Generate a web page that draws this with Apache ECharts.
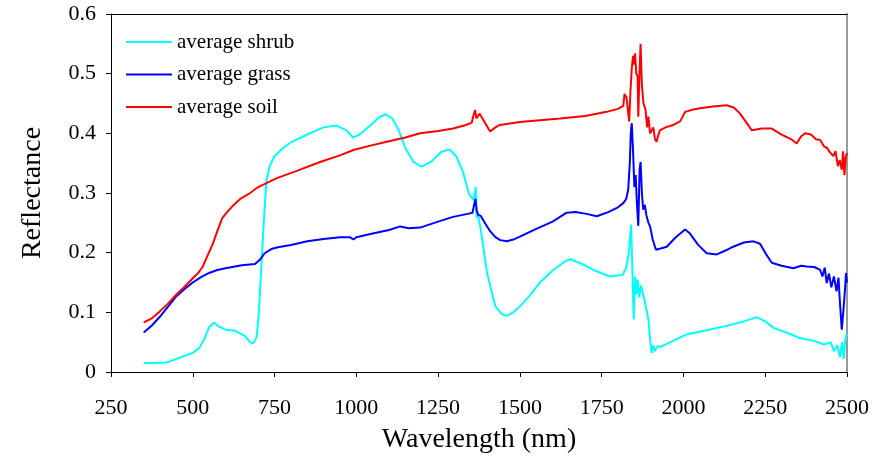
<!DOCTYPE html>
<html>
<head>
<meta charset="utf-8">
<script src="https://cdn.jsdelivr.net/npm/echarts@6/dist/echarts.min.js"></script>
<style>html,body{margin:0;padding:0;background:#fff}#c{width:881px;height:462px}</style>
</head>
<body>
<div id="c"></div>
<script>
const seriesNames = ['average shrub', 'average grass', 'average soil'];
const xTicks = [250, 500, 750, 1000, 1250, 1500, 1750, 2000, 2250, 2500];

const shrubWl = [350,380,420,450,480,500,520,535,550,565,580,600,630,660,675,685,695,702,710,718,725,735,750,775,800,850,900,940,970,990,1010,1040,1070,1090,1110,1130,1150,1175,1200,1230,1260,1285,1305,1325,1345,1358,1365,1368,1372,1380,1400,1425,1445,1460,1480,1500,1530,1560,1600,1640,1655,1690,1725,1775,1815,1826,1833,1840,1845,1848,1852,1856,1860,1865,1870,1877,1885,1893,1898,1903,1908,1913,1920,1930,1960,2010,2070,2130,2180,2224,2250,2275,2320,2356,2400,2430,2450,2460,2470,2478,2485,2490,2495,2500];
const shrubVal = [0.015,0.015,0.016,0.022,0.028,0.032,0.040,0.055,0.075,0.083,0.076,0.071,0.069,0.060,0.050,0.048,0.058,0.100,0.180,0.260,0.320,0.345,0.362,0.375,0.385,0.398,0.410,0.413,0.405,0.393,0.398,0.412,0.427,0.432,0.425,0.405,0.375,0.352,0.344,0.353,0.369,0.373,0.362,0.337,0.298,0.288,0.310,0.258,0.262,0.240,0.165,0.110,0.097,0.094,0.100,0.110,0.128,0.149,0.170,0.186,0.189,0.181,0.171,0.160,0.163,0.177,0.200,0.247,0.150,0.088,0.160,0.130,0.155,0.125,0.145,0.130,0.110,0.088,0.055,0.032,0.045,0.035,0.043,0.042,0.050,0.063,0.070,0.077,0.084,0.092,0.085,0.074,0.065,0.057,0.052,0.046,0.050,0.035,0.045,0.025,0.050,0.022,0.055,0.065];

const grassWl = [350,375,400,425,450,475,500,525,550,575,600,650,690,705,720,740,760,800,850,900,950,980,991,1000,1050,1100,1134,1160,1195,1250,1296,1340,1355,1360,1364,1368,1373,1380,1395,1409,1425,1440,1460,1480,1500,1550,1600,1643,1670,1704,1735,1770,1800,1816,1825,1831,1836,1839,1842,1846,1850,1854,1858,1862,1866,1869,1873,1877,1882,1887,1893,1898,1906,1916,1930,1949,1975,2005,2020,2045,2071,2102,2130,2152,2185,2214,2234,2252,2270,2300,2336,2360,2377,2400,2418,2425,2432,2438,2445,2452,2460,2468,2474,2478,2484,2490,2494,2497,2500];
const grassVal = [0.066,0.078,0.093,0.110,0.127,0.139,0.150,0.159,0.166,0.171,0.174,0.179,0.181,0.188,0.199,0.206,0.209,0.213,0.219,0.223,0.226,0.226,0.222,0.226,0.232,0.238,0.244,0.241,0.242,0.252,0.260,0.265,0.267,0.280,0.290,0.270,0.263,0.262,0.248,0.236,0.226,0.221,0.219,0.222,0.227,0.240,0.252,0.267,0.268,0.265,0.261,0.268,0.276,0.283,0.290,0.305,0.350,0.400,0.417,0.370,0.310,0.330,0.280,0.245,0.340,0.352,0.300,0.272,0.280,0.262,0.250,0.244,0.222,0.205,0.207,0.210,0.225,0.239,0.232,0.213,0.199,0.197,0.204,0.210,0.217,0.219,0.215,0.198,0.183,0.178,0.174,0.178,0.177,0.176,0.171,0.160,0.175,0.149,0.165,0.142,0.160,0.135,0.158,0.120,0.071,0.110,0.140,0.166,0.150];

const soilWl = [350,375,400,425,450,475,500,515,530,545,560,575,590,605,625,645,670,700,757,818,889,950,991,1040,1093,1150,1195,1250,1296,1335,1353,1358,1363,1367,1372,1377,1383,1395,1409,1425,1439,1500,1561,1623,1700,1765,1800,1816,1820,1826,1834,1838,1842,1846,1849,1852,1856,1860,1862,1865,1869,1873,1878,1884,1889,1893,1898,1903,1908,1913,1918,1922,1928,1945,1969,1990,2005,2030,2051,2090,2132,2155,2173,2190,2209,2240,2270,2300,2330,2346,2360,2372,2390,2405,2418,2430,2440,2448,2458,2465,2472,2478,2484,2488,2492,2496,2500];
const soilVal = [0.083,0.090,0.102,0.115,0.130,0.143,0.157,0.165,0.176,0.195,0.213,0.236,0.258,0.268,0.280,0.290,0.298,0.310,0.325,0.337,0.352,0.363,0.372,0.379,0.386,0.393,0.400,0.404,0.408,0.414,0.418,0.430,0.439,0.425,0.425,0.433,0.433,0.416,0.403,0.410,0.414,0.419,0.422,0.425,0.429,0.436,0.441,0.446,0.466,0.460,0.420,0.470,0.509,0.530,0.515,0.534,0.500,0.495,0.428,0.490,0.550,0.480,0.450,0.440,0.410,0.428,0.400,0.397,0.410,0.390,0.386,0.395,0.405,0.410,0.414,0.420,0.436,0.440,0.442,0.445,0.447,0.443,0.433,0.420,0.405,0.408,0.408,0.398,0.390,0.383,0.395,0.400,0.398,0.390,0.389,0.378,0.375,0.368,0.362,0.370,0.345,0.355,0.339,0.370,0.330,0.360,0.367];

function pairs(xs, ys) { return xs.map((x, i) => [x, ys[i]]); }
const colors = ['#00FFFF', '#0000FF', '#FF0000'];
const data = [pairs(shrubWl, shrubVal), pairs(grassWl, grassVal), pairs(soilWl, soilVal)];

const font = 'Liberation Serif';
const chart = echarts.init(document.getElementById('c'), null, {renderer: 'canvas'});
chart.setOption({
  animation: false,
  backgroundColor: '#fff',
  grid: {left: 111, right: 34, top: 14, bottom: 90},
  legend: {
    show: true,
    orient: 'vertical',
    left: 126,
    top: 30,
    padding: 0,
    itemWidth: 46,
    itemHeight: 2,
    itemGap: 8.5,
    icon: 'rect',
    data: seriesNames,
    textStyle: {fontFamily: font, fontSize: 21, color: '#000', lineHeight: 24}
  },
  xAxis: [{
    type: 'value', min: 250, max: 2500, interval: 250, position: 'bottom',
    name: 'Wavelength (nm)', nameLocation: 'middle', nameGap: 54,
    nameTextStyle: {fontFamily: font, fontSize: 28, color: '#000'},
    axisLine: {show: true, onZero: false, lineStyle: {color: '#000', width: 1}},
    axisTick: {show: true, length: 5, lineStyle: {color: '#000'}},
    axisLabel: {fontFamily: font, fontSize: 22, color: '#000', margin: 25,
      formatter: v => String(v)},
    splitLine: {show: false}
  }, {
    type: 'value', min: 250, max: 2500, position: 'top',
    axisLine: {show: true, onZero: false, lineStyle: {color: '#000', width: 1}},
    axisTick: {show: false}, axisLabel: {show: false}, splitLine: {show: false}
  }],
  yAxis: [{
    type: 'value', min: 0, max: 0.6, interval: 0.1, position: 'left',
    name: 'Reflectance', nameLocation: 'middle', nameGap: 64,
    nameTextStyle: {fontFamily: font, fontSize: 28, color: '#000'},
    axisLine: {show: true, onZero: false, lineStyle: {color: '#000', width: 1}},
    axisTick: {show: true, length: 5, lineStyle: {color: '#000'}},
    axisLabel: {fontFamily: font, fontSize: 22, color: '#000', margin: 15,
      formatter: v => String(Math.round(v * 10) / 10)},
    splitLine: {show: false}
  }, {
    type: 'value', min: 0, max: 0.6, position: 'right',
    axisLine: {show: true, onZero: false, lineStyle: {color: '#999', width: 2}},
    axisTick: {show: false}, axisLabel: {show: false}, splitLine: {show: false}
  }],
  series: seriesNames.map((n, i) => ({
    name: n, type: 'line', data: data[i], showSymbol: false, symbol: 'none',
    xAxisIndex: 0, yAxisIndex: 0,
    lineStyle: {color: colors[i], width: 2}, itemStyle: {color: colors[i]}
  }))
});
</script>
</body>
</html>
